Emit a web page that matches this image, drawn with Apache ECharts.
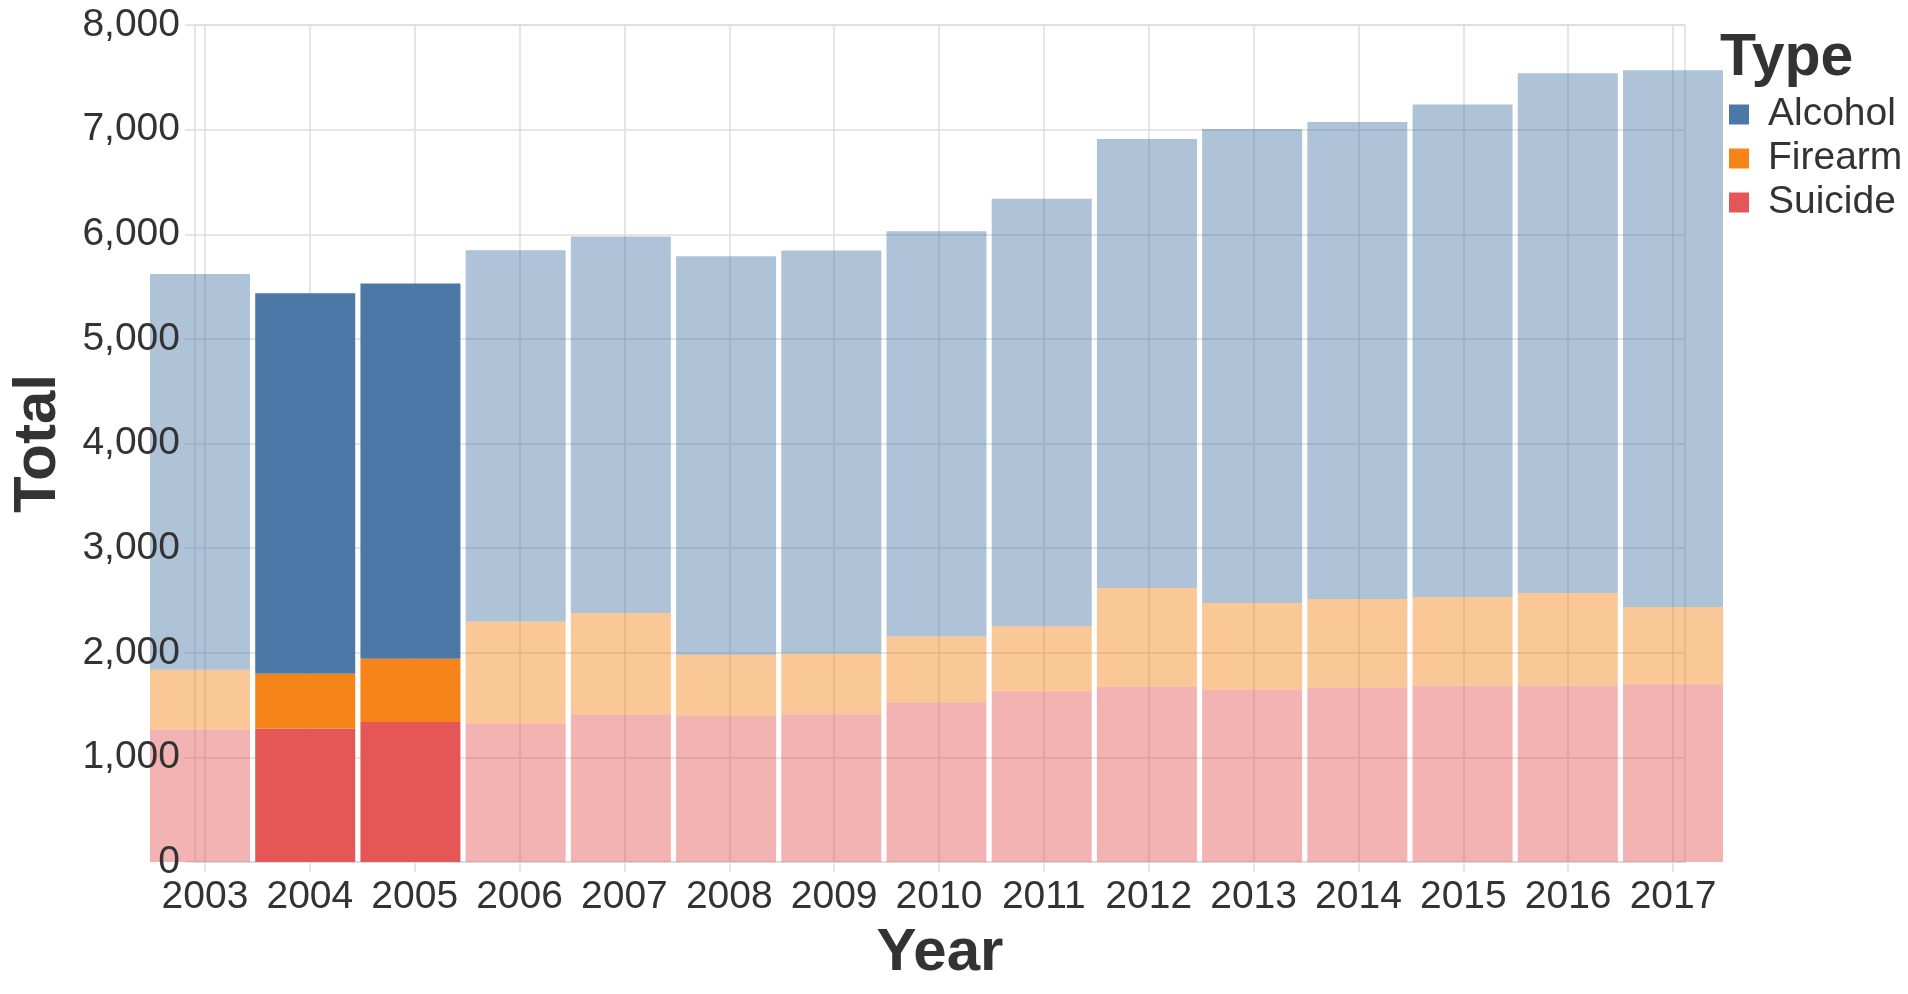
<!DOCTYPE html>
<html>
<head>
<meta charset="utf-8">
<script src="https://cdn.jsdelivr.net/npm/echarts@6/dist/echarts.min.js"></script>
<style>
html,body{margin:0;padding:0;background:#fff;}
#chart{width:1908px;height:994px;}
</style>
</head>
<body>
<div id="chart"></div>
<script>
const years = [2003,2004,2005,2006,2007,2008,2009,2010,2011,2012,2013,2014,2015,2016,2017];
const suicide = [1267,1276,1337,1324,1410,1400,1413,1527,1632,1673,1648,1667,1686,1686,1698];
const firearm = [571,524,606,974,971,581,581,629,622,946,828,847,847,885,740];
const alcohol = [3781,3635,3587,3550,3597,3809,3850,3873,4086,4292,4530,4559,4708,4969,5130];
const selectedYears = [2004,2005];
const typeNames = ['Alcohol','Firearm','Suicide'];
const typeColors = ['#4c78a8','#f58518','#e45756'];

const FONT = 'Liberation Sans, Arial, Helvetica, sans-serif';
const TXT = '#333333';
const GRID = '#dddddd';

function makeData(vals){
  return vals.map((v,i)=>({
    value: v,
    itemStyle:{opacity: selectedYears.indexOf(years[i])>=0 ? 1 : 0.45}
  }));
}
const seriesVals = {Alcohol: alcohol, Firearm: firearm, Suicide: suicide};
const order = ['Suicide','Firearm','Alcohol'];

const chart = echarts.init(document.getElementById('chart'));
chart.setOption({
  animation:false,
  textStyle:{fontFamily:FONT},
  title:{text:'Type', left:1720, top:29, padding:0,
    textStyle:{fontSize:59, fontWeight:'bold', color:TXT, fontFamily:FONT}},
  legend:{
    data:typeNames, orient:'vertical', left:1729, top:95, padding:0,
    itemWidth:20, itemHeight:20, itemGap:5, icon:'rect',
    textStyle:{fontSize:39, color:TXT, fontFamily:FONT, padding:[0,0,0,14]}
  },
  grid:[
    // frame / axes grid
    {left:190, right:223, top:25, bottom:132, show:true, borderColor:GRID, borderWidth:1.5, containLabel:false},
    // bars grid (bands centred on the year ticks)
    {left:147.4, right:182.4, top:25, bottom:132, show:false, containLabel:false}
  ],
  xAxis:[{
    gridIndex:0, type:'value', min:2002.905, max:2017.114,
    name:'Year', nameLocation:'middle', nameGap:61,
    nameTextStyle:{fontSize:60, fontWeight:'bold', color:TXT, fontFamily:FONT},
    axisLine:{show:true, lineStyle:{color:GRID, width:1.5}},
    axisTick:{show:true, customValues:years, length:10, lineStyle:{color:GRID, width:1.5}},
    axisLabel:{customValues:years, fontSize:39, color:TXT, margin:16, fontFamily:FONT, formatter:v=>String(v)},
    splitLine:{show:true, customValues:years, lineStyle:{color:GRID, width:1.5}}
  },{
    gridIndex:1, type:'category', data:years, boundaryGap:true, show:false
  }],
  yAxis:[{
    gridIndex:0, type:'value', min:0, max:8000, interval:1000,
    axisLine:{show:false},
    axisTick:{show:true, length:10, lineStyle:{color:GRID, width:1.5}},
    axisLabel:{show:false},
    splitLine:{show:true, lineStyle:{color:GRID, width:1.5}}
  },{
    gridIndex:0, type:'value', min:0, max:8000, interval:1000, z:10, position:'left',
    name:'Total', nameLocation:'middle', nameGap:127,
    nameTextStyle:{fontSize:60, fontWeight:'bold', color:TXT, fontFamily:FONT},
    axisLine:{show:false}, axisTick:{show:false}, splitLine:{show:false},
    axisLabel:{fontSize:39, color:TXT, margin:15, fontFamily:FONT, formatter:v=>v.toLocaleString('en-US')}
  },{
    gridIndex:1, type:'value', min:0, max:8000, show:false
  }],
  series: order.map(name=>({
    name:name, type:'bar', stack:'total', xAxisIndex:1, yAxisIndex:2, barWidth:100,
    itemStyle:{color: typeColors[typeNames.indexOf(name)]},
    data: makeData(seriesVals[name])
  }))
});
</script>
</body>
</html>
